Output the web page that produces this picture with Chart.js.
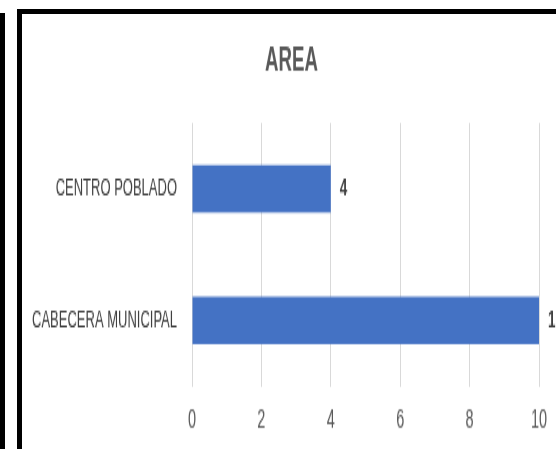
<!DOCTYPE html>
<html>
<head>
<meta charset="utf-8">
<script src="https://cdn.jsdelivr.net/npm/chart.js@4.4.1/dist/chart.umd.min.js"></script>
<style>
  html, body { margin: 0; padding: 0; background: #fff; overflow: hidden; }
  body { width: 556px; height: 449px; position: relative; }
  /* la capture d'origine est étirée verticalement */
  #areaChart { position: absolute; left: 0; top: 0; transform-origin: 0 0; transform: scaleY(1.86); }
  .cadre { position: absolute; border: 5px solid #000; pointer-events: none; }
  #cadreGauche { left: 0; top: 13px; width: 0; height: 500px; border-width: 0 0 0 5px; }
  #cadreGraph { left: 17px; top: 9px; width: 700px; height: 600px; }
</style>
</head>
<body>
<canvas id="areaChart" width="620" height="244"></canvas>
<div id="cadreGauche" class="cadre"></div>
<div id="cadreGraph" class="cadre"></div>
<script>
// Données du graphique
const categories = ["CENTRO POBLADO", "CABECERA MUNICIPAL"];
const valeurs = [4, 10];
const titre = "AREA";

const fontFamily = "'Liberation Sans', Arial, sans-serif";
Chart.defaults.font.family = fontFamily;

// Etiquettes de valeur au bout des barres
const valueLabels = {
  id: "valueLabels",
  afterDatasetsDraw(chart) {
    const ctx = chart.ctx;
    const meta = chart.getDatasetMeta(0);
    ctx.save();
    ctx.font = "bold 13.5px " + fontFamily;
    ctx.fillStyle = "#404040";
    ctx.textAlign = "left";
    ctx.textBaseline = "middle";
    meta.data.forEach((bar, i) => {
      ctx.fillText(String(valeurs[i]), bar.x + 9, bar.y);
    });
    ctx.restore();
  },
};

const chartData = {
  labels: categories,
  datasets: [
    {
      data: valeurs,
      backgroundColor: "#4472C4",
      borderWidth: 0,
      barPercentage: 0.36,
      categoryPercentage: 1,
    },
  ],
};

const options = {
  indexAxis: "y",
  responsive: false,
  maintainAspectRatio: false,
  animation: false,
  layout: {
    padding: { left: 10, right: 47, top: 0, bottom: 0 },
  },
  plugins: {
    legend: { display: false },
    tooltip: { enabled: false },
    title: {
      display: true,
      text: titre,
      color: "#595959",
      font: { size: 18.7, weight: "bold" },
      padding: { top: 21.3, bottom: 22.4 },
    },
  },
  scales: {
    x: {
      min: 0,
      max: 10,
      ticks: { stepSize: 2, color: "#595959", font: { size: 14.5 }, padding: 9.5 },
      grid: { color: "#d9d9d9", lineWidth: 1, drawTicks: false },
      border: { display: false },
    },
    y: {
      ticks: { color: "#404040", font: { size: 13 }, padding: 15 },
      grid: { display: false, drawTicks: false },
      border: { display: false },
      afterFit: (scale) => {
        scale.width = 182;
      },
    },
    // axe vide à droite, sert seulement à centrer le titre comme sur l'original
    yDroite: {
      type: "category",
      position: "right",
      ticks: { display: false },
      grid: { display: false, drawTicks: false },
      border: { display: false },
      afterFit: (scale) => {
        scale.width = 34;
      },
    },
  },
};

const ctx = document.getElementById("areaChart").getContext("2d");
const areaChart = new Chart(ctx, {
  type: "bar",
  data: chartData,
  options: options,
  plugins: [valueLabels],
});
</script>
</body>
</html>
